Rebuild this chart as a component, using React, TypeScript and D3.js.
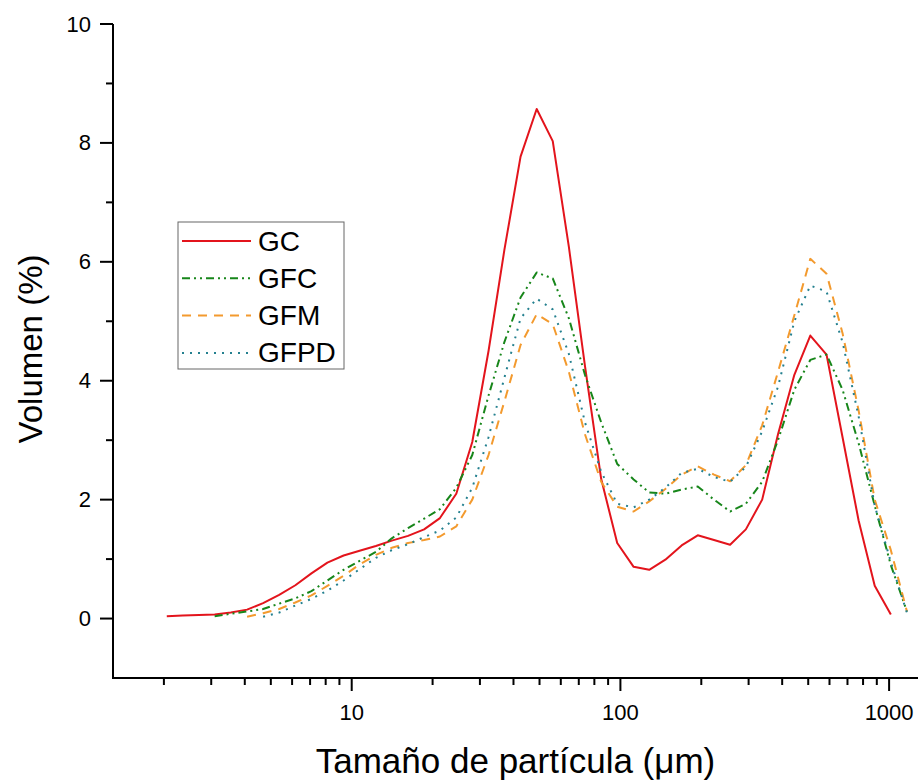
import React from 'react';
import * as d3 from 'd3';

// Particle size bins (µm)
const sizes = [2.05, 2.35, 2.70, 3.09, 3.55, 4.08, 4.68, 5.37, 6.17, 7.08, 8.12, 9.33, 10.7, 12.3, 14.1, 16.2, 18.6, 21.3, 24.5, 28.1, 32.3, 37.0, 42.5, 48.8, 56.0, 64.3, 73.8, 84.8, 97.3, 112, 128, 147, 169, 194, 223, 256, 293, 337, 386, 444, 509, 585, 671, 770, 884, 1015, 1165];

const seriesNames = ['GC', 'GFC', 'GFM', 'GFPD'];

const gcValues = [0.04, 0.05, 0.06, 0.07, 0.10, 0.15, 0.26, 0.40, 0.56, 0.76, 0.94, 1.06, 1.14, 1.22, 1.31, 1.39, 1.50, 1.69, 2.10, 2.97, 4.5, 6.2, 7.77, 8.57, 8.03, 6.25, 4.25, 2.35, 1.27, 0.87, 0.82, 0.99, 1.23, 1.40, 1.32, 1.24, 1.50, 2.0, 3.1, 4.10, 4.76, 4.44, 3.05, 1.65, 0.55, 0.07, null];

const gfcValues = [null, null, null, 0.04, 0.08, 0.12, 0.16, 0.25, 0.34, 0.46, 0.64, 0.82, 0.97, 1.12, 1.35, 1.52, 1.68, 1.84, 2.2, 2.75, 3.75, 4.65, 5.40, 5.82, 5.72, 5.05, 4.1, 3.3, 2.6, 2.34, 2.12, 2.1, 2.17, 2.22, 2.0, 1.80, 1.93, 2.3, 3.0, 3.85, 4.35, 4.44, 3.85, 2.95, 1.9, 0.9, 0.12];

const gfmValues = [null, null, null, null, null, 0.03, 0.09, 0.16, 0.27, 0.39, 0.55, 0.72, 0.91, 1.07, 1.19, 1.27, 1.32, 1.38, 1.55, 2.0, 2.75, 3.65, 4.6, 5.12, 4.95, 4.15, 3.1, 2.3, 1.88, 1.80, 1.97, 2.18, 2.42, 2.56, 2.42, 2.31, 2.58, 3.25, 4.15, 5.1, 6.05, 5.8, 4.8, 3.5, 2.0, 1.15, 0.12];

const gfpdValues = [null, null, null, null, null, null, 0.03, 0.10, 0.22, 0.33, 0.47, 0.64, 0.83, 1.02, 1.15, 1.25, 1.37, 1.48, 1.70, 2.2, 3.05, 4.05, 5.05, 5.38, 5.2, 4.45, 3.3, 2.47, 1.93, 1.87, 2.0, 2.2, 2.45, 2.52, 2.38, 2.3, 2.55, 3.15, 3.9, 5.0, 5.6, 5.5, 4.65, 3.4, 1.9, 0.95, 0.1];

const xMajorTicks = [10, 100, 1000];
const xMinorTicks = [2, 3, 4, 5, 6, 7, 8, 9, 20, 30, 40, 50, 60, 70, 80, 90, 200, 300, 400, 500, 600, 700, 800, 900];
const yMajorTicks = [0, 2, 4, 6, 8, 10];
const yMinorTicks = [1, 3, 5, 7, 9];

const xLabel = 'Tamaño de partícula (μm)';
const yLabel = 'Volumen (%)';

const styles = [
  { color: '#e3141c', dash: null },
  { color: '#17861a', dash: '8,4,2,4,2,4' },
  { color: '#f39a2e', dash: '9,7' },
  { color: '#24808f', dash: '2,6' },
];

const W = 918;
const H = 780;
const FONT = '"Liberation Sans", Arial, sans-serif';

export default function App() {
  const x = d3.scaleLog().domain([1.293, 1281]).range([113, 918]);
  const y = d3.scaleLinear().domain([-1, 10]).range([678, 24]);

  const all = [gcValues, gfcValues, gfmValues, gfpdValues];
  const line = d3
    .line<[number, number | null]>()
    .defined((d) => d[1] !== null)
    .x((d) => x(d[0]))
    .y((d) => y(d[1] as number))
    .curve(d3.curveLinear);

  const x0 = x.range()[0];
  const yBottom = y(-1);

  return (
    <svg width={W} height={H} style={{ position: 'absolute', left: 0, top: 0, background: '#fff' }} fontFamily={FONT}>
      <rect x={0} y={0} width={W} height={H} fill="#fff" />
      {/* data lines */}
      {all.map((vals, si) => (
        <path
          key={seriesNames[si]}
          d={line(sizes.map((s, i) => [s, vals[i]]) as any) || ''}
          fill="none"
          stroke={styles[si].color}
          strokeWidth={2}
          strokeDasharray={styles[si].dash || undefined}
          strokeLinejoin="round"
        />
      ))}
      {/* axes */}
      <line x1={x0} x2={x0} y1={y(10)} y2={yBottom} stroke="#000" strokeWidth={2} />
      <line x1={x0 - 1} x2={W} y1={yBottom} y2={yBottom} stroke="#000" strokeWidth={2} />
      {yMajorTicks.map((t) => (
        <g key={'ym' + t}>
          <line x1={x0 - 13} x2={x0} y1={y(t)} y2={y(t)} stroke="#000" strokeWidth={2} />
          <text x={91} y={y(t)} textAnchor="end" dominantBaseline="central" fontSize={22} fill="#000">
            {t}
          </text>
        </g>
      ))}
      {yMinorTicks.map((t) => (
        <line key={'yn' + t} x1={x0 - 7} x2={x0} y1={y(t)} y2={y(t)} stroke="#000" strokeWidth={2} />
      ))}
      {xMajorTicks.map((t) => (
        <g key={'xm' + t}>
          <line x1={x(t)} x2={x(t)} y1={yBottom} y2={yBottom + 13} stroke="#000" strokeWidth={2} />
          <text x={x(t)} y={720} textAnchor="middle" fontSize={22} fill="#000">
            {t}
          </text>
        </g>
      ))}
      {xMinorTicks.map((t) => (
        <line key={'xn' + t} x1={x(t)} x2={x(t)} y1={yBottom} y2={yBottom + 7} stroke="#000" strokeWidth={2} />
      ))}
      {/* axis titles */}
      <text x={(x0 + W) / 2} y={773} textAnchor="middle" fontSize={35} fill="#000">
        {xLabel}
      </text>
      <text
        transform={`translate(42, ${(y(10) + yBottom) / 2 - 2}) rotate(-90)`}
        textAnchor="middle"
        fontSize={33}
        fill="#000"
      >
        {yLabel}
      </text>
      {/* legend */}
      <rect x={178} y={222} width={166} height={147} fill="#fff" stroke="#666" strokeWidth={1} />
      {seriesNames.map((n, i) => {
        const cy = 241 + i * 37.3;
        return (
          <g key={'lg' + n}>
            <line x1={182} x2={251} y1={cy} y2={cy} stroke={styles[i].color} strokeWidth={2} strokeDasharray={styles[i].dash || undefined} />
            <text x={258} y={cy} dominantBaseline="central" fontSize={28} fill="#000">
              {n}
            </text>
          </g>
        );
      })}
    </svg>
  );
}
